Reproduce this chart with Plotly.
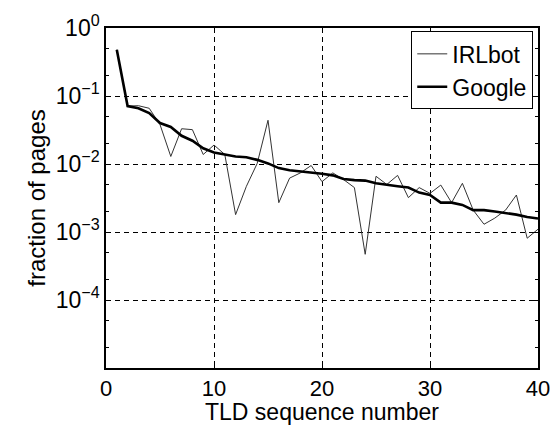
import plotly.graph_objects as go

tld = list(range(1, 41))
irlbot = [0.48, 0.071, 0.072, 0.066, 0.038, 0.0129, 0.033, 0.032, 0.0138, 0.019,
          0.0138, 0.0018, 0.0047, 0.0102, 0.044, 0.0027, 0.0062, 0.0074, 0.0095, 0.0055,
          0.0074, 0.0059, 0.0045, 0.00047, 0.0066, 0.0050, 0.0068, 0.0032, 0.0045, 0.0037,
          0.0049, 0.0027, 0.0052, 0.0021, 0.0013, 0.0016, 0.0021, 0.0035, 0.00081, 0.0011]
google = [0.48, 0.071, 0.066, 0.056, 0.040, 0.035, 0.026, 0.022, 0.017, 0.0148,
          0.0138, 0.0129, 0.0126, 0.0115, 0.0102, 0.0087, 0.0081, 0.0078, 0.0076, 0.0072,
          0.0068, 0.0060, 0.0058, 0.0057, 0.0052, 0.0049, 0.0047, 0.0045, 0.0038, 0.0035,
          0.0027, 0.0027, 0.0025, 0.0021, 0.0021, 0.0020, 0.0019, 0.0018, 0.00166, 0.00158]
x_ticks = [0, 10, 20, 30, 40]
y_ticks = [1, 0.1, 0.01, 0.001, 0.0001]
y_ticktext = ["10<sup>0</sup>", "10<sup>−1</sup>", "10<sup>−2</sup>", "10<sup>−3</sup>", "10<sup>−4</sup>"]

FONT = "Liberation Sans, Arial, Helvetica, sans-serif"

fig = go.Figure()
fig.add_trace(go.Scatter(x=tld, y=irlbot, mode="lines", name="IRLbot",
                         line=dict(color="#333333", width=1)))
fig.add_trace(go.Scatter(x=tld, y=google, mode="lines", name="Google",
                         line=dict(color="black", width=2.6)))

axis_common = dict(
    showline=True, linecolor="black", linewidth=1.5, mirror="ticks",
    ticks="inside", ticklen=5, tickcolor="black",
    showgrid=True, gridcolor="black", gridwidth=1, griddash="5px,4px",
    zeroline=False,
)

fig.update_xaxes(range=[0, 40], tickvals=x_ticks,
                 tickfont=dict(size=22, color="black", family=FONT),
                 title=dict(text="TLD sequence number", font=dict(size=23, color="black", family=FONT), standoff=5),
                 **axis_common)
fig.update_yaxes(type="log", range=[-5, 0], tickvals=y_ticks, ticktext=y_ticktext,
                 tickfont=dict(size=23, color="black", family=FONT),
                 minor=dict(ticks="inside", ticklen=3, tickcolor="black", showgrid=False),
                 title=dict(text="fraction of pages", font=dict(size=24, color="black", family=FONT), standoff=3),
                 **axis_common)

fig.update_layout(
    width=551, height=425,
    margin=dict(l=106, r=13, t=28, b=57, autoexpand=False),
    paper_bgcolor="white", plot_bgcolor="white",
    font=dict(family=FONT, color="black"),
    showlegend=True,
    legend=dict(x=0.989, y=0.99, xanchor="right", yanchor="top",
                bgcolor="white", bordercolor="black", borderwidth=1,
                font=dict(size=23, color="black", family=FONT),
                itemwidth=30, tracegroupgap=0),
)

fig.write_html("out.html")
